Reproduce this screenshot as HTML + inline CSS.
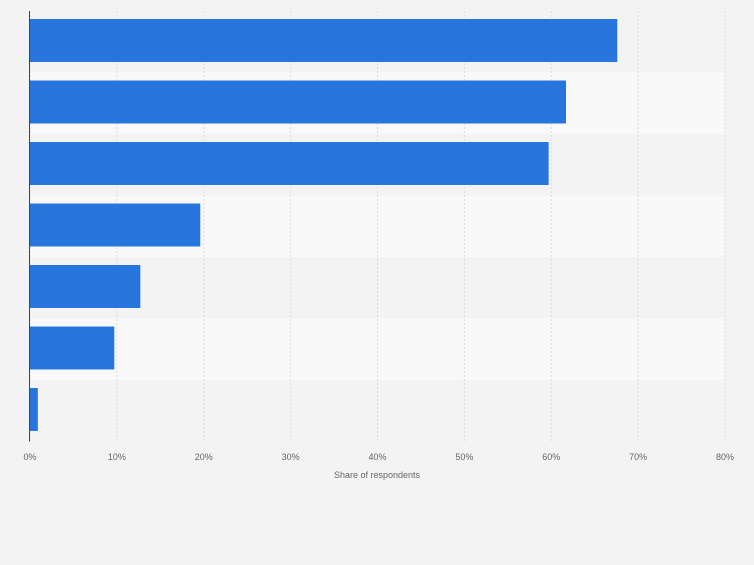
<!DOCTYPE html>
<html><head><meta charset="utf-8"><style>
body{margin:0;background:#f3f3f3;font-family:"Liberation Sans",sans-serif}
</style></head><body>
<svg id="chart" width="754" height="560" xmlns="http://www.w3.org/2000/svg">
<rect width="754" height="560" fill="#f3f3f3"/>
</svg>
<script>
const categories=["A","B","C","D","E","F","G"];
const values=[67.6,61.7,59.7,19.6,12.7,9.7,0.9];
const ticks=[0,10,20,30,40,50,60,70,80];
const tickLabels=["0%","10%","20%","30%","40%","50%","60%","70%","80%"];
const svg=document.getElementById('chart');
const NS="http://www.w3.org/2000/svg";
const x0=30,x1=725,top0=11,bandH=61.5,maxV=80;
const x=v=>x0+(x1-x0)*v/maxV;
const y=i=>top0+i*bandH;
function mk(t,a){const e=document.createElementNS(NS,t);for(const k in a)e.setAttribute(k,a[k]);svg.appendChild(e);return e;}
categories.forEach((c,i)=>{
  const b=mk('rect',{x:x0,y:y(i),width:x1-x0,height:bandH,fill:i%2?'#f9f9f9':'#f3f3f3'});
  
  
});
ticks.forEach((t,i)=>{
  const g=mk('line',{x1:x(t),x2:x(t),y1:top0,y2:top0+bandH*categories.length,stroke:'#dcdcdc','stroke-dasharray':'2,2'});
  
  
  const l=mk('text',{x:x(t),y:460,'font-size':9,fill:'#666','text-anchor':'middle'});
  l.textContent=tickLabels[i];
  
  
});
categories.forEach((c,i)=>{
  const r=mk('rect',{x:x0,y:y(i)+8,width:x(values[i])-x0,height:43,fill:'#2876dd'});
  
  
});
const ax=mk('line',{x1:29.5,x2:29.5,y1:top0,y2:top0+bandH*categories.length,stroke:'#444','stroke-width':1});


const tt=mk('text',{x:377,y:478,'font-size':9,fill:'#666','text-anchor':'middle'});
tt.textContent='Share of respondents';


</script>
</body></html>
